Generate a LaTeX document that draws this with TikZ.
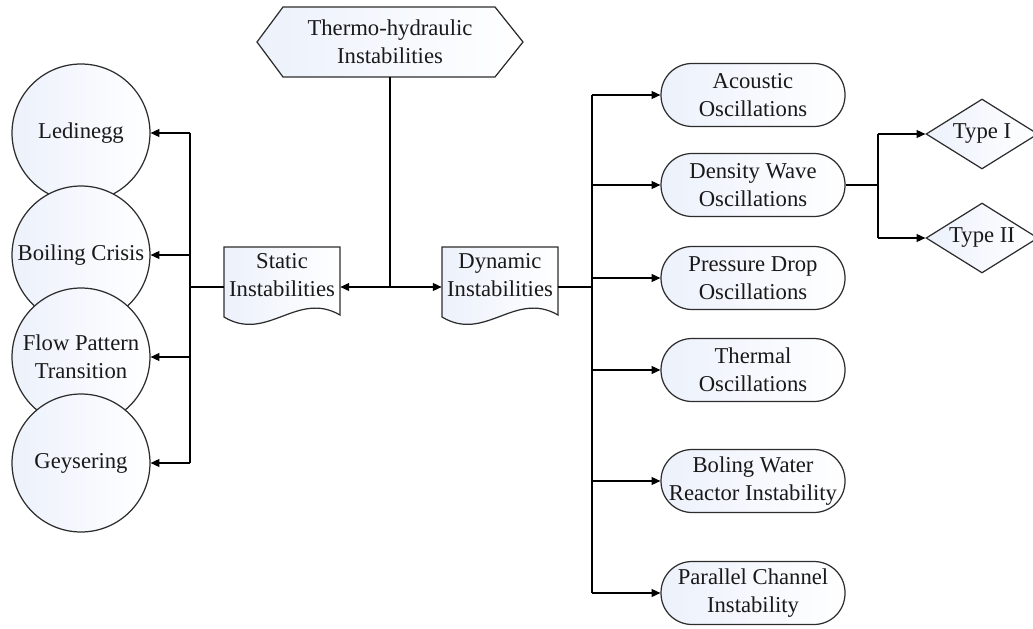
\documentclass[tikz,border=0pt]{standalone}
\usepackage{fontspec}
\setmainfont{LiberationSerif-Regular.ttf}[BoldFont=LiberationSerif-Bold.ttf]
\usetikzlibrary{shapes.geometric,arrows.meta,backgrounds,calc}
\definecolor{shadeblue}{RGB}{236,241,251}
\definecolor{edgegray}{RGB}{45,45,45}
\tikzset{
  txt/.style={font=\fontsize{12.9}{15.9}\selectfont, align=center, text=black!90},
  box/.style={txt, draw=edgegray, line width=0.7pt, left color=shadeblue, right color=white, inner sep=1pt},
  ball/.style={box, circle, minimum size=2.76cm},
  osc/.style={box, rectangle, rounded corners=0.62cm, minimum width=3.68cm, minimum height=1.26cm},
  kind/.style={box, diamond, aspect=1.6, inner sep=0pt, minimum width=2.24cm, minimum height=1.4cm},
  doc/.style={txt, minimum width=2.32cm, inner sep=0pt},
  shell/.style={draw=edgegray, line width=0.7pt, left color=shadeblue, right color=white},
  wire/.style={line width=0.7pt},
  arr/.style={wire, -{Triangle[length=5pt,width=4.5pt]}}
}
\begin{document}
\begin{tikzpicture}[x=0.02cm, y=-0.02cm]
\useasboundingbox (0,0) rectangle (1033,628);

% top
\node[txt, minimum height=1.4cm, minimum width=5.3cm] (thi) at (390,42) {Thermo-hydraulic\\Instabilities};
\node[doc] (stat) at (282,275) {Static\\Instabilities};
\node[doc] (dyn) at (500,275) {Dynamic\\Instabilities};
\coordinate (jn) at (390,287);

\begin{scope}[on background layer]
\draw[shell] ($(thi)+(-133,0)$) -- ($(thi)+(-107,-35)$) -- ($(thi)+(105,-35)$)
  -- ($(thi)+(133,0)$) -- ($(thi)+(105,35)$) -- ($(thi)+(-107,35)$) -- cycle;
\foreach \d in {stat,dyn}{
\draw[shell] ($(\d)+(-58,-28)$) -- ($(\d)+(58,-28)$) -- ($(\d)+(58,40)$)
  .. controls ($(\d)+(15,15)$) and ($(\d)+(-15,68)$) .. ($(\d)+(-58,42)$) -- cycle;
}
\end{scope}

% static side
\node[ball] (led) at (81,133) {Ledinegg};
\node[ball] (boil) at (81,255) {Boiling Crisis};
\node[ball] (flow) at (81,357) {Flow Pattern\\Transition};
\node[ball] (gey) at (81,463) {Geysering};

% dynamic side
\node[osc] (ac) at (753,95) {Acoustic\\Oscillations};
\node[osc] (dw) at (753,185) {Density Wave\\Oscillations};
\node[osc] (pd) at (753,278) {Pressure Drop\\Oscillations};
\node[osc] (th) at (753,370) {Thermal\\Oscillations};
\node[osc] (bw) at (753,481) {Boling Water\\Reactor Instability};
\node[osc] (pc) at (753,593) {Parallel Channel\\Instability};

\node[kind] (t1) at (982,134) {Type I};
\node[kind] (t2) at (982,238) {Type II};

\draw[wire] (thi.south) -- (jn);
\draw[arr] (jn) -- (stat.east |- jn);
\draw[arr] (jn) -- (dyn.west |- jn);

\draw[wire] (stat.west |- jn) -- (190,287);
\draw[wire] (190,133) -- (190,463);
\foreach \c in {led,boil,flow,gey}{
\draw[arr] (190,0 |- \c) -- (\c.east);
}

\draw[wire] (dyn.east |- jn) -- (592,287);
\draw[wire] (592,95) -- (592,593);
\foreach \c in {ac,dw,pd,th,bw,pc}{
\draw[arr] (592,0 |- \c) -- (\c.west);
}

\draw[wire] (dw.east) -- (878,185);
\draw[wire] (878,134) -- (878,238);
\draw[arr] (878,134) -- (t1.west);
\draw[arr] (878,238) -- (t2.west);

\end{tikzpicture}
\end{document}
